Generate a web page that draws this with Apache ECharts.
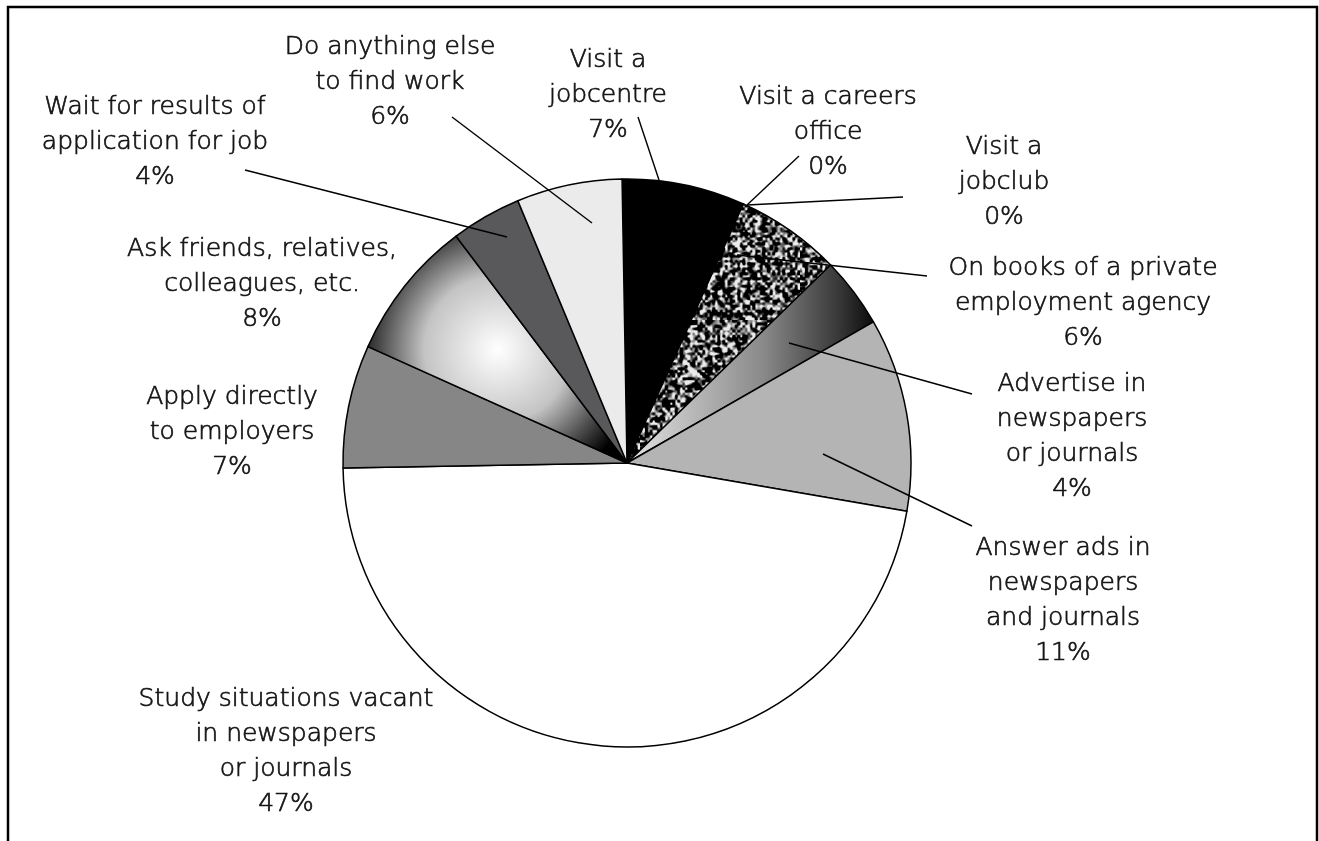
<!DOCTYPE html>
<html>
<head>
<meta charset="utf-8">
<title>Job search methods</title>
<script src="https://cdn.jsdelivr.net/npm/echarts@6/dist/echarts.min.js"></script>
<style>
  html, body { margin: 0; padding: 0; background: #fff; }
  #chart { width: 1319px; height: 841px; }
</style>
</head>
<body>
<div id="chart"></div>
<script>
// Methods used to look for work, share of respondents (%)
const categories = [
  'Visit a\njobcentre',
  'Visit a careers\noffice',
  'Visit a\njobclub',
  'On books of a private\nemployment agency',
  'Advertise in\nnewspapers\nor journals',
  'Answer ads in\nnewspapers\nand journals',
  'Study situations vacant\nin newspapers\nor journals',
  'Apply directly\nto employers',
  'Ask friends, relatives,\ncolleagues, etc.',
  'Wait for results of\napplication for job',
  'Do anything else\nto find work'
];
const shares = [7, 0, 0, 6, 4, 11, 47, 7, 8, 4, 6];

// Label anchors and leader lines (pixels), one per category
const labelSpots = [
  { x: 608,  y: 95,  line: [[659, 180], [638, 117]] },
  { x: 828,  y: 132, line: [[747, 205], [799, 156]] },
  { x: 1004, y: 182, line: [[747, 205], [903, 197]] },
  { x: 1083, y: 303, line: [[737, 255], [927, 276]] },
  { x: 1072, y: 437, line: [[789, 343], [972, 394]] },
  { x: 1063, y: 601, line: [[823, 454], [972, 526]] },
  { x: 286,  y: 752, line: null },
  { x: 232,  y: 432, line: null },
  { x: 262,  y: 284, line: null },
  { x: 155,  y: 142, line: [[507, 237], [245, 170]] },
  { x: 390,  y: 82,  line: [[592, 223], [452, 117]] }
];

// Speckled black/white texture for the agency slice
function makeSpeckle() {
  const n = 64, scale = 2.5;
  const small = document.createElement('canvas');
  small.width = small.height = n;
  const sctx = small.getContext('2d');
  const img = sctx.createImageData(n, n);
  let seed = 20240611;
  const next = () => { seed = (seed * 1103515245 + 12345) & 0x7fffffff; return seed / 0x7fffffff; };
  for (let i = 0; i < n * n; i++) {
    const v = Math.floor(next() * 255);
    img.data[i * 4] = v; img.data[i * 4 + 1] = v; img.data[i * 4 + 2] = v; img.data[i * 4 + 3] = 255;
  }
  sctx.putImageData(img, 0, 0);
  const size = Math.round(n * scale);
  const big = document.createElement('canvas');
  big.width = big.height = size;
  const bctx = big.getContext('2d');
  bctx.imageSmoothingEnabled = true;
  bctx.drawImage(small, 0, 0, size, size);
  const d = bctx.getImageData(0, 0, size, size);
  for (let i = 0; i < d.data.length; i += 4) {
    let v = (d.data[i] - 128) * 2.1 + 85;
    v = Math.max(0, Math.min(235, v));
    d.data[i] = d.data[i + 1] = d.data[i + 2] = v;
  }
  bctx.putImageData(d, 0, 0);
  return big;
}

const sliceFills = [
  '#000000',
  '#000000',
  '#000000',
  { image: makeSpeckle(), repeat: 'repeat' },
  { type: 'linear', x: 0, y: 0, x2: 1, y2: 0,
    colorStops: [{ offset: 0, color: '#e4e4e4' }, { offset: 0.55, color: '#8a8a8a' }, { offset: 0.85, color: '#3a3a3a' }, { offset: 1, color: '#0a0a0a' }] },
  '#b4b4b4',
  '#ffffff',
  '#868686',
  { type: 'radial', x: 0.5, y: 0.5, r: 0.64,
    colorStops: [{ offset: 0, color: '#ffffff' }, { offset: 0.5, color: '#c4c4c4' }, { offset: 0.82, color: '#444444' }, { offset: 1, color: '#000000' }] },
  '#59595b',
  '#ebebeb'
];

// Leader lines from slices to their labels
const leaderLines = labelSpots.filter(s => s.line).map(s => ({
  type: 'polyline',
  silent: true,
  z: 10,
  shape: { points: s.line },
  style: { stroke: '#000', lineWidth: 1.4, fill: null }
}));

const chart = echarts.init(document.getElementById('chart'), null, { renderer: 'canvas' });

const option = {
  animation: false,
  backgroundColor: '#ffffff',
  graphic: [{
    type: 'polyline',
    silent: true,
    shape: { points: [[8, 900], [8, 7], [1317, 7], [1317, 900]] },
    style: { stroke: '#000', lineWidth: 2.5, fill: null }
  }].concat(leaderLines),
  series: [{
    type: 'pie',
    center: [627, 463],
    radius: 284,
    startAngle: 91,
    clockwise: true,
    avoidLabelOverlap: false,
    emphasis: { disabled: true },
    itemStyle: { borderColor: '#000', borderWidth: 1.5 },
    label: {
      show: true,
      position: 'outside',
      fontFamily: '"DejaVu Sans", sans-serif',
      fontSize: 25,
      fontWeight: 300,
      lineHeight: 35,
      color: '#141414',
      textBorderColor: '#141414',
      textBorderWidth: 0.7,
      align: 'center',
      formatter: p => p.name + '\n' + p.value + '%'
    },
    labelLine: { show: false },
    labelLayout: p => {
      const s = labelSpots[p.dataIndex];
      return { x: s.x, y: s.y, align: 'center', verticalAlign: 'middle' };
    },
    data: categories.map((name, i) => ({
      name: name,
      value: shares[i],
      itemStyle: { color: sliceFills[i] }
    }))
  }]
};

chart.setOption(option);
</script>
</body>
</html>
